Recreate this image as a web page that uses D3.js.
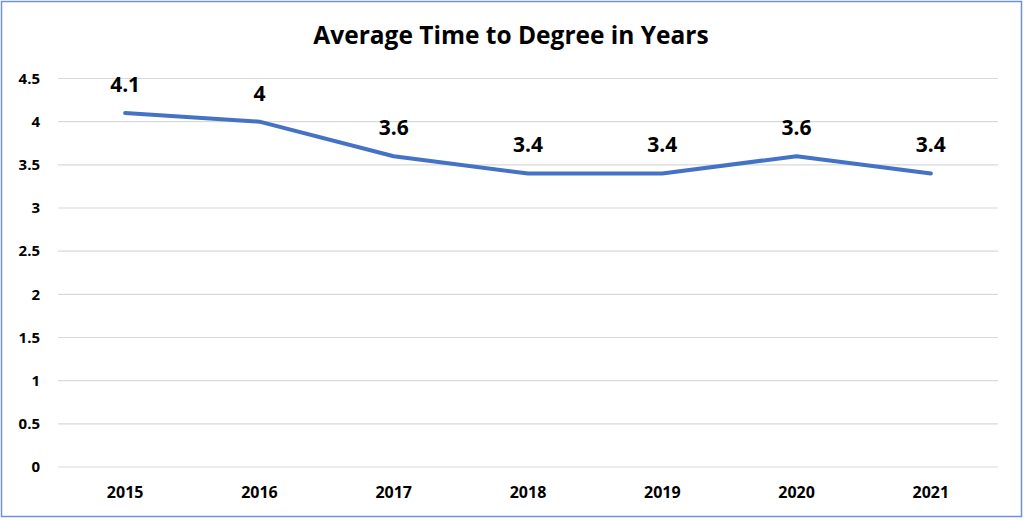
<!DOCTYPE html>
<html><head><meta charset="utf-8">
<script src="https://cdn.jsdelivr.net/npm/d3@7"></script>
<style>html,body{margin:0;padding:0;background:#fff;}</style>
</head><body>
<svg id="c" width="1024" height="520"></svg>
<script>
const title = "Average Time to Degree in Years";
const years = ["2015","2016","2017","2018","2019","2020","2021"];
const values = [4.1, 4.0, 3.6, 3.4, 3.4, 3.6, 3.4];
const yTicks = [0, 0.5, 1, 1.5, 2, 2.5, 3, 3.5, 4, 4.5];

const svg = d3.select("#c");
const font = "'Open Sans', sans-serif";
svg.append("rect").attr("x",1.5).attr("y",1.5).attr("width",1020).attr("height",515)
  .attr("fill","#fff").attr("stroke","#6d93d6").attr("stroke-width",1.5);

const x = d3.scaleBand().domain(years).range([58, 998]);
const y = d3.scaleLinear().domain([0, 4.5]).range([467, 78.5]);

svg.append("g").selectAll("line").data(yTicks).join("line")
  .attr("x1",58).attr("x2",998).attr("y1",d=>y(d)).attr("y2",d=>y(d))
  .attr("stroke","#d9d9d9").attr("stroke-width",1.2);

svg.append("g").selectAll("text").data(yTicks).join("text")
  .attr("x",40).attr("y",d=>y(d)).attr("dy","0.35em").attr("text-anchor","end")
  .attr("font-family",font).attr("font-weight","bold").attr("font-size",15).attr("fill","#000")
  .text(d=>d);

svg.append("g").selectAll("text").data(years).join("text")
  .attr("x",d=>x(d)+x.bandwidth()/2).attr("y",498).attr("text-anchor","middle")
  .attr("font-family",font).attr("font-weight","bold").attr("font-size",16).attr("fill","#000")
  .text(d=>d);

const line = d3.line().x((d,i)=>x(years[i])+x.bandwidth()/2).y(d=>y(d));
svg.append("path").datum(values).attr("d",line).attr("fill","none")
  .attr("stroke","#4472c4").attr("stroke-width",4).attr("stroke-linejoin","round").attr("stroke-linecap","round");

svg.append("g").selectAll("text").data(values).join("text")
  .attr("x",(d,i)=>x(years[i])+x.bandwidth()/2).attr("y",d=>y(d)-21).attr("text-anchor","middle")
  .attr("font-family",font).attr("font-weight","bold").attr("font-size",21).attr("fill","#000")
  .text(d=>d);

svg.append("text").attr("x",511).attr("y",44).attr("text-anchor","middle")
  .attr("font-family",font).attr("font-weight","bold").attr("font-size",24.5).attr("fill","#000")
  .text(title);
</script>
</body></html>
